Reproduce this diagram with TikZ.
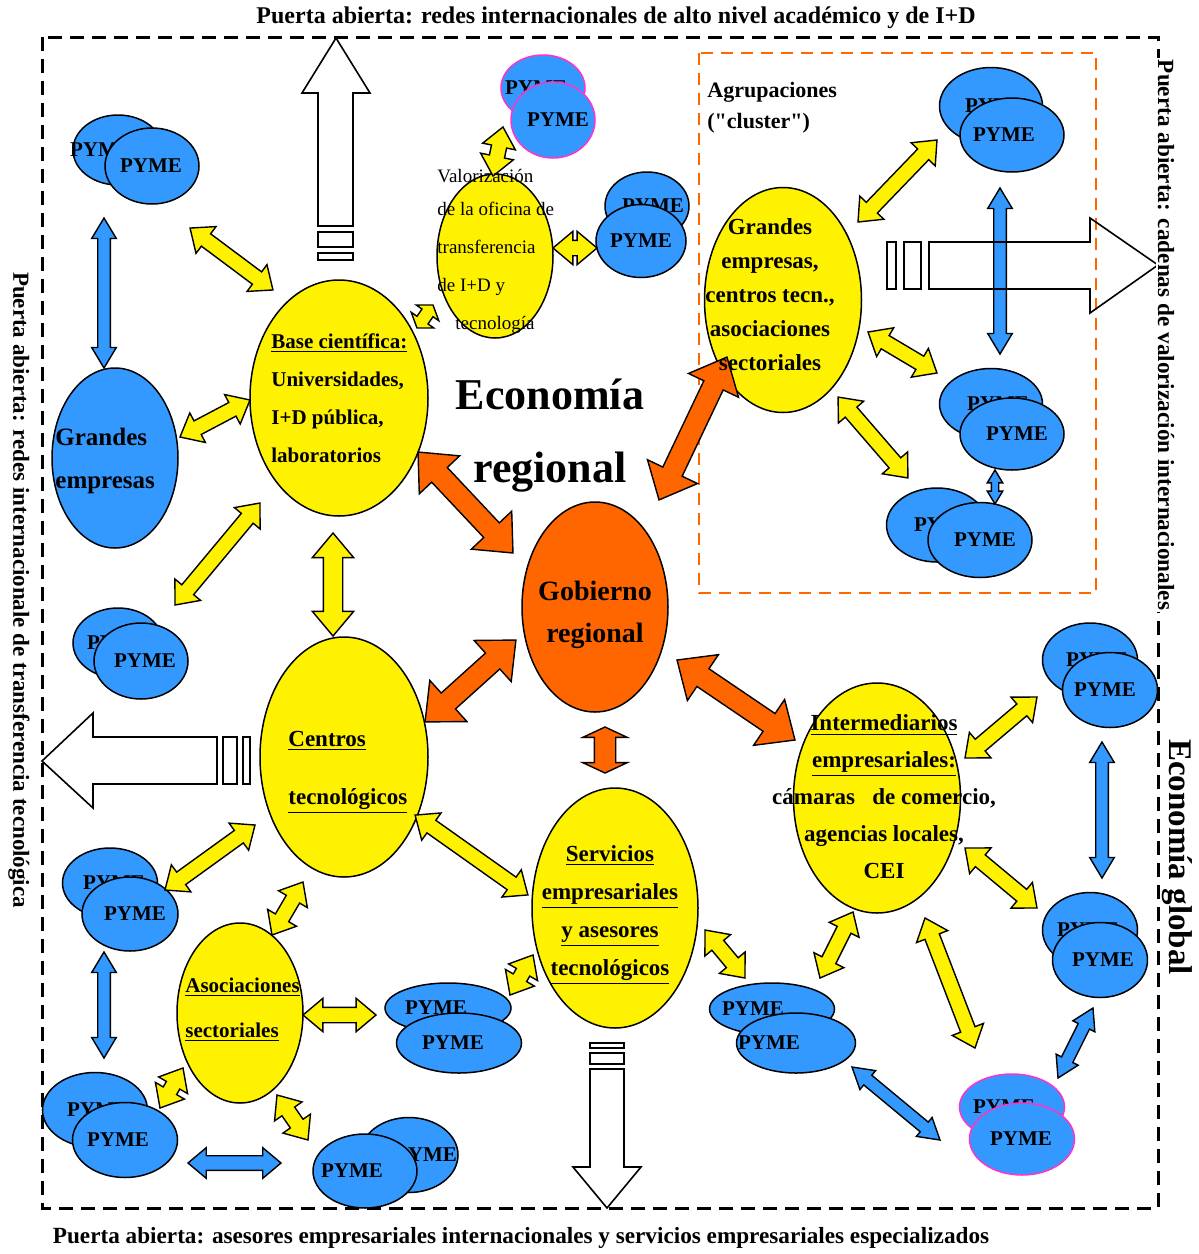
\documentclass[tikz,border=0pt]{standalone}
\usepackage{fontspec}
\setmainfont{Liberation Serif}
\usetikzlibrary{shapes.geometric,shapes.arrows,calc}
\definecolor{pymeblue}{RGB}{51,153,255}
\definecolor{gobor}{RGB}{255,102,0}
\definecolor{pymepink}{RGB}{255,51,204}
\tikzset{
  ell/.style={ellipse, draw, line width=0.75pt, inner sep=0pt},
  yell/.style={ell, fill=yellow},
  pyme/.style={ell, fill=pymeblue},
  lbl/.style={inner sep=0pt, font=\bfseries\fontsize{10.5}{12}\selectfont},
  txt/.style={inner sep=0pt, align=left},
  fatarr/.style={double arrow, draw, line width=0.7pt, inner xsep=0pt},
  yarr/.style={fatarr, fill=yellow, inner ysep=3.5pt, double arrow head extend=4.5pt, double arrow tip angle=80},
  barr/.style={fatarr, fill=pymeblue, inner ysep=2.8pt, double arrow head extend=3pt, double arrow tip angle=62},
  oarr/.style={fatarr, fill=gobor, inner ysep=5pt, double arrow head extend=8.5pt, double arrow tip angle=83},
  bigarr/.style={draw, line width=0.8pt, line join=miter}
}
% flecha gruesa de doble punta entre dos puntos
\newcommand\fat[3][yarr]{%
  \path let \p1=(#2), \p2=(#3), \n1={atan2(\y2-\y1,\x2-\x1)}, \n2={veclen(\x2-\x1,\y2-\y1)} in
    ($(\p1)!.5!(\p2)$) node[#1, rotate=\n1, minimum height=\n2] {};}
\begin{document}
\begin{tikzpicture}[x=0.5pt,y=-0.5pt]
\useasboundingbox (0,0) rectangle (1199,1254);
% marcos
\draw[line width=1.5pt, dash pattern=on 7pt off 4pt] (42,37) rectangle (1158,1208);
\draw[gobor, line width=1pt, dash pattern=on 6pt off 4pt] (699,53) rectangle (1096,593);

% elipses principales
\node[yell, minimum width=89pt, minimum height=118pt] (base) at (339,398) {};
\node[yell, minimum width=58pt, minimum height=82pt] (valor) at (495,256) {};
\node[yell, minimum width=78.5pt, minimum height=112.5pt] (gecl) at (783,300) {};
\node[yell, minimum width=84pt, minimum height=120pt] (centros) at (344,757) {};
\node[yell, minimum width=63pt, minimum height=90pt] (asoc) at (240,1013) {};
\node[yell, minimum width=83pt, minimum height=120pt] (servicios) at (615,908) {};
\node[yell, minimum width=83.5pt, minimum height=115pt] (inter) at (877,798) {};
\node[ell, fill=gobor, minimum width=73pt, minimum height=105pt] (gob) at (595,607) {};
\node[pyme, minimum width=63pt, minimum height=90pt] (gemp) at (115,458) {};

% parejas de PYME: nombre / detras x,y,w,h,desplaz. / delante x,y,w,h,desplaz. / borde
\foreach \pn/\bx/\by/\bw/\bh/\bl/\fx/\fy/\fw/\fh/\fl/\bc in {
  p1/118/150/90/70/-17/152/166/94/76/-1/black,
  p2/543/88/84/66/-7/553/120/84/76/5/pymepink,
  p3/647/206/84/68/6/641/241/90/73/0/black,
  p4/991/106/103/77/5/1012/135/104/74/-8/black,
  p5/991/404/103/71/7/1012/434/104/72/5/black,
  p6/937/525/101/74/8/980/540/104/75/5/black,
  p7/118/643/90/70/0/141/661/94/76/4/black,
  p8/1090/660/95/74/7/1110/690/95/75/-5/black,
  p9/1090/930/95/75/-2/1100/960/95/75/3/black,
  p10/1012/1107/105/66/-8/1022/1139/105/72/-1/pymepink,
  p11/110/883/95/70/4/130/914/96/74/5/black,
  p12/95/1110/105/75/3/125/1140/105/75/-7/black,
  p13/409/1155/98/75/17/365/1171/104/74/-13/black,
  p14/448/1008/126/50/-12/459/1043/125/60/-6/black,
  p15/772/1009/125/52/-19/796/1043/119/60/-27/black}{
  \node[pyme, draw=\bc, minimum width=\bw*0.5pt, minimum height=\bh*0.5pt] (b\pn) at (\bx,\by) {};
  \node[lbl] (lb\pn) at ([xshift=\bl*0.5pt]b\pn) {PYME};
  \node[pyme, draw=\bc, minimum width=\fw*0.5pt, minimum height=\fh*0.5pt] (\pn) at (\fx,\fy) {};
  \node[lbl] (lf\pn) at ([xshift=\fl*0.5pt]\pn) {PYME};
}

% flechas amarillas
\fat{$(p1)+(38,62)$}{$(base)+(-66,-108)$}
\fat{$(gemp)+(65,-21)$}{$(base)+(-89,2)$}
\fat{$(base)+(-79,105)$}{$(p7)+(34,-56)$}
\fat[yarr, inner ysep=4.5pt, double arrow head extend=5.5pt]{$(base)+(-6,135)$}{$(centros)+(-11,-121)$}
\fat[yarr, inner ysep=3pt, double arrow head extend=3.5pt, double arrow tip angle=110]{$(base)+(78,-70)$}{$(valor)+(-62,49)$}
\fat{$(valor)+(-2,-80)$}{$(p2)+(-50,7)$}
\fat{$(valor)+(58,-8)$}{$(p3)+(-44,7)$}
\fat{$(gecl)+(75,-78)$}{$(p4)+(-75,5)$}
\fat{$(gecl)+(85,32)$}{$(p5)+(-75,-61)$}
\fat{$(gecl)+(55,97)$}{$(bp6)+(-29,-47)$}
\fat{$(centros)+(-89,68)$}{$(p11)+(35,-24)$}
\fat{$(centros)+(-41,125)$}{$(asoc)+(32,-78)$}
\fat{$(centros)+(71,58)$}{$(servicios)+(-87,-13)$}
\fat{$(asoc)+(63,2)$}{$(bp14)+(-72,7)$}
\fat{$(asoc)+(-57,55)$}{$(p12)+(35,-32)$}
\fat{$(asoc)+(37,82)$}{$(p13)+(-57,-31)$}
\fat{$(servicios)+(-82,47)$}{$(bp14)+(62,-13)$}
\fat{$(servicios)+(90,22)$}{$(bp15)+(-27,-31)$}
\fat{$(inter)+(-24,114)$}{$(bp15)+(48,-31)$}
\fat{$(inter)+(88,-40)$}{$(p8)+(-73,7)$}
\fat{$(inter)+(88,50)$}{$(bp9)+(-53,-22)$}
\fat{$(inter)+(48,120)$}{$(bp10)+(-37,-59)$}

% flechas azules
\fat[barr]{$(bp1)+(-14,68)$}{$(gemp)+(-11,-90)$}
\fat[barr]{$(p11)+(-26,38)$}{$(bp12)+(9,-52)$}
\fat[barr, inner ysep=3.3pt, double arrow head extend=4pt, double arrow tip angle=80]{$(p12)+(63,23)$}{$(p13)+(-84,-8)$}
\fat[barr]{$(p4)+(-12,53)$}{$(bp5)+(9,-50)$}
\fat[barr, inner ysep=1.5pt, double arrow head extend=2pt]{$(p5)+(-17,36)$}{$(p6)+(15,-36)$}
\fat[barr]{$(p8)+(-8,52)$}{$(bp9)+(12,-52)$}
\fat[barr]{$(p9)+(-7,48)$}{$(p10)+(36,-61)$}
\fat[barr]{$(p15)+(56,24)$}{$(p10)+(-82,1)$}

% flechas naranjas
\fat[oarr]{$(base)+(79,54)$}{$(gob)+(-82,-54)$}
\fat[oarr]{$(gecl)+(-56,57)$}{$(gob)+(64,-107)$}
\fat[oarr]{$(centros)+(81,-35)$}{$(gob)+(-79,33)$}
\fat[oarr, inner ysep=5pt, double arrow head extend=5.75pt, double arrow tip angle=130]{$(gob)+(10,120)$}{$(servicios)+(-10,-135)$}
\fat[oarr]{$(gob)+(82,53)$}{$(inter)+(-82,-58)$}

% puertas abiertas: flechas blancas
\draw[bigarr] (318,226) -- (318,93) -- (302,93) -- (336,38) -- (370,93) -- (353,93) -- (353,226) -- cycle;
\draw[bigarr] (318,232) rectangle (353,247) (318,253) rectangle (353,260);
\draw[bigarr] (929,242) -- (1090,242) -- (1090,218) -- (1158,265) -- (1090,313) -- (1090,289) -- (929,289) -- cycle;
\draw[bigarr] (887,242) rectangle (896,289) (904,242) rectangle (921,289);
\draw[bigarr] (217,737) -- (93,737) -- (93,713) -- (42,761) -- (93,808) -- (93,784) -- (217,784) -- cycle;
\draw[bigarr] (223,737) rectangle (237,784) (243,737) rectangle (250,784);
\draw[bigarr] (590,1069) -- (590,1167) -- (573,1167) -- (607,1208) -- (641,1167) -- (624,1167) -- (624,1069) -- cycle;
\draw[bigarr] (590,1043) rectangle (624,1048) (590,1053) rectangle (624,1064);

% textos
\node[txt, font=\bfseries\fontsize{12}{14}\selectfont] (tittop) at (616,18) {Puerta abierta: redes internacionales de alto nivel académico y de I+D};
\node[txt, font=\bfseries\fontsize{11.6}{14}\selectfont] (titbot) at (521,1238) {Puerta abierta: asesores empresariales internacionales y servicios empresariales especializados};
\node[txt, font=\bfseries\fontsize{11.5}{14}\selectfont, rotate=-90] (titleft) at (19,590) {Puerta abierta: redes internacionale de transferencia tecnológica};
\node[txt, font=\bfseries\fontsize{11.6}{14}\selectfont, rotate=-90, fill=white, inner sep=1pt] (titright) at (1166,335) {Puerta abierta: cadenas de valorización internacionales};
\node[txt, font=\bfseries\fontsize{16.5}{20}\selectfont, rotate=-90, fill=white, inner sep=1pt] (global) at (1177,857) {Economía global};
\node[txt, align=center, font=\bfseries\fontsize{22}{36.5}\selectfont] (ecoreg) at (550,436) {Economía\\regional};
\node[txt, anchor=west, font=\bfseries\fontsize{11}{15.5}\selectfont] (agrup) at (707,108) {Agrupaciones\\(\textquotedbl cluster\textquotedbl)};

\node[txt, anchor=west, font=\bfseries\fontsize{10.5}{19}\selectfont] (base-t) at (271,398) {\underline{Base científica:}\\Universidades,\\I+D pública,\\laboratorios};
\node[txt, anchor=west, font=\fontsize{9.5}{12.5}\selectfont] (valor-t) at (437,251) {Valorización\\[4pt]de la oficina de\\[6.5pt]transferencia\\[6.5pt]de I+D y\\[6.5pt]\hspace*{9pt}tecnología};
\node[txt, align=center, font=\bfseries\fontsize{11.5}{17}\selectfont] (gecl-t) at (770,295) {Grandes\\empresas,\\centros tecn.,\\asociaciones\\sectoriales};
\node[txt, anchor=west, font=\bfseries\fontsize{11.5}{29}\selectfont] (centros-t) at (288,772) {\underline{Centros}\\\underline{tecnológicos}};
\node[txt, anchor=west, font=\bfseries\fontsize{10.5}{22.5}\selectfont] (asoc-t) at (185,1010) {\underline{Asociaciones}\\\underline{sectoriales}};
\node[txt, align=center, font=\bfseries\fontsize{11.5}{19}\selectfont] (servicios-t) at (610,915) {\underline{Servicios}\\\underline{empresariales}\\\underline{y asesores}\\\underline{tecnológicos}};
\node[txt, align=center, font=\bfseries\fontsize{11.5}{18.5}\selectfont] (inter-t) at (884,797) {\underline{Intermediarios}\\\underline{empresariales:}\\cámaras\ \ \ de comercio,\\agencias locales,\\CEI};
\node[txt, align=center, font=\bfseries\fontsize{14}{21}\selectfont] (gob-t) at (595,615) {Gobierno\\regional};
\node[txt, anchor=west, font=\bfseries\fontsize{12.5}{21.5}\selectfont] (gemp-t) at (55,461) {Grandes\\empresas};
\end{tikzpicture}
\end{document}
